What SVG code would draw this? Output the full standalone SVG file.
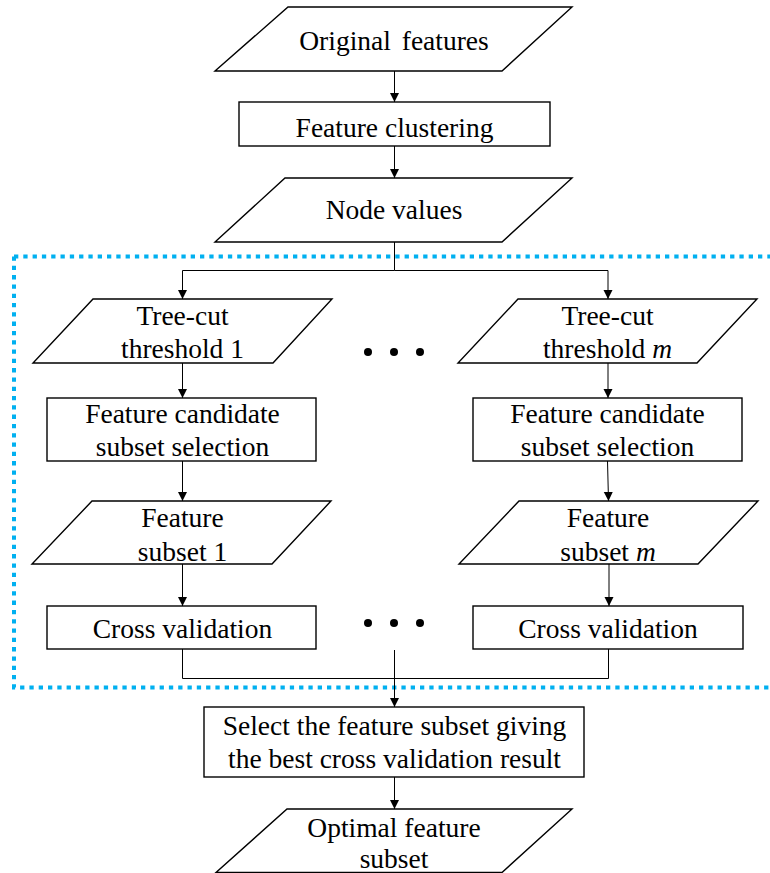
<svg xmlns="http://www.w3.org/2000/svg" width="770" height="873" viewBox="0 0 770 873">
<style>
.s{fill:#fff;stroke:#000;stroke-width:1.4}
.t{font-family:"Liberation Serif","Times New Roman",serif;font-size:27.5px;fill:#000;text-anchor:middle}
.c{fill:none;stroke:#000;stroke-width:1}
.d{fill:none;stroke:#00B0F0;stroke-width:4;stroke-dasharray:4.3 5}
</style>
<defs>
<marker id="ah" markerUnits="userSpaceOnUse" markerWidth="10" markerHeight="10" refX="9" refY="4.5" orient="auto">
<path d="M0,0 L9,4.5 L0,9 z" fill="#000"/>
</marker>
</defs>
<rect width="770" height="873" fill="#fff"/>
<path class="d" d="M14,256.5 H775 M14,256.5 V687.5 H775"/>
<g id="original">
<polygon class="s" points="288,7 572,7 502,71 215,71"/>
<text class="t" x="394" y="50" word-spacing="4">Original features</text>
</g>
<g id="clustering">
<rect class="s" x="239" y="102" width="311" height="44"/>
<text class="t" x="394.5" y="136.5">Feature clustering</text>
</g>
<g id="nodevalues">
<polygon class="s" points="285,178 572,178 502,242 215,242"/>
<text class="t" x="394" y="219">Node values</text>
</g>
<g id="tree1">
<polygon class="s" points="93,299 332,299 273,363 33,363"/>
<text class="t" x="182.5" y="325">Tree-cut</text>
<text class="t" x="182.5" y="358">threshold 1</text>
</g>
<g id="treem">
<polygon class="s" points="518,299 757,299 697,363 458,363"/>
<text class="t" x="607.5" y="325">Tree-cut</text>
<text class="t" x="607.5" y="358">threshold <tspan font-style="italic">m</tspan></text>
</g>
<g id="cand1">
<rect class="s" x="47" y="398" width="269" height="63"/>
<text class="t" x="182.5" y="423">Feature candidate</text>
<text class="t" x="182.5" y="456">subset selection</text>
</g>
<g id="candm">
<rect class="s" x="473" y="398" width="269" height="63"/>
<text class="t" x="607.5" y="423">Feature candidate</text>
<text class="t" x="607.5" y="456">subset selection</text>
</g>
<g id="subset1">
<polygon class="s" points="92,501 331,501 272,564 32,564"/>
<text class="t" x="182.5" y="527">Feature</text>
<text class="t" x="182.5" y="561">subset 1</text>
</g>
<g id="subsetm">
<polygon class="s" points="519,501 758,501 698,564 459,564"/>
<text class="t" x="608" y="527">Feature</text>
<text class="t" x="608" y="561">subset <tspan font-style="italic">m</tspan></text>
</g>
<g id="cv1">
<rect class="s" x="47" y="606" width="269" height="43"/>
<text class="t" x="182.5" y="638">Cross validation</text>
</g>
<g id="cvm">
<rect class="s" x="473" y="606" width="270" height="43"/>
<text class="t" x="608" y="638">Cross validation</text>
</g>
<g id="dots-top">
<circle cx="368" cy="352" r="4"/>
<circle cx="394" cy="352" r="4"/>
<circle cx="420" cy="352" r="4"/>
</g>
<g id="dots-bottom">
<circle cx="368" cy="623" r="4"/>
<circle cx="394" cy="623" r="4"/>
<circle cx="420" cy="623" r="4"/>
</g>
<g id="select">
<rect class="s" x="204" y="707" width="380" height="70"/>
<text class="t" x="394.5" y="735">Select the feature subset giving</text>
<text class="t" x="394.5" y="768">the best cross validation result</text>
</g>
<g id="optimal">
<polygon class="s" points="287,809 572,809 502,872.5 216,872.5"/>
<text class="t" x="394" y="837">Optimal feature</text>
<text class="t" x="394" y="868">subset</text>
</g>
<g id="connectors">
<path class="c" d="M394.5,71 V102" marker-end="url(#ah)"/>
<path class="c" d="M394.5,146 V178" marker-end="url(#ah)"/>
<path class="c" d="M394.5,242 V270.5"/>
<path class="c" d="M394.5,270.5 H182.5 V299" marker-end="url(#ah)"/>
<path class="c" d="M394.5,270.5 H608 V299" marker-end="url(#ah)"/>
<path class="c" d="M182.5,363 V398" marker-end="url(#ah)"/>
<path class="c" d="M608,363 V398" marker-end="url(#ah)"/>
<path class="c" d="M182.5,461 V501" marker-end="url(#ah)"/>
<path class="c" d="M607.5,461 L608.5,501" marker-end="url(#ah)"/>
<path class="c" d="M182.5,564 V606" marker-end="url(#ah)"/>
<path class="c" d="M609,564 V606" marker-end="url(#ah)"/>
<path class="c" d="M182.5,649 V678.5 H608.5 V649"/>
<path class="c" d="M394.5,650 V707" marker-end="url(#ah)"/>
<path class="c" d="M394.5,777 V809" marker-end="url(#ah)"/>
</g>
</svg>
